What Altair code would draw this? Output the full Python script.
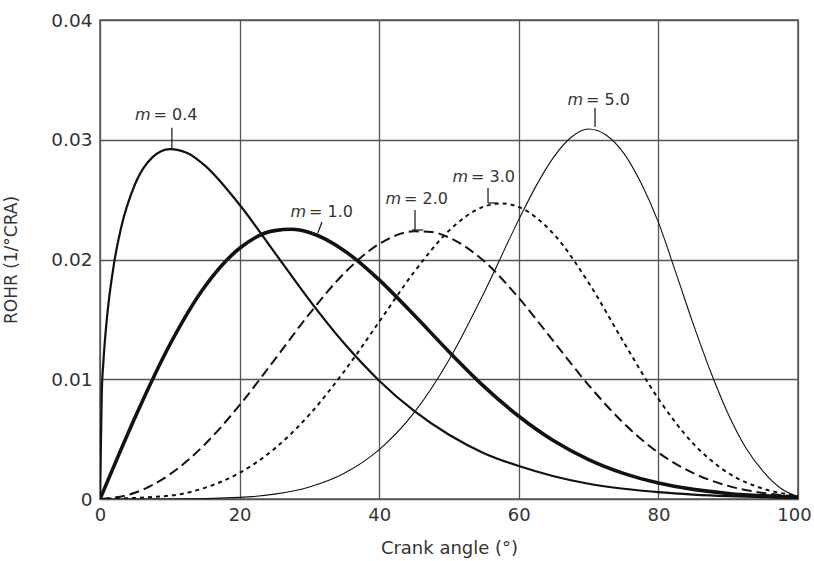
import altair as alt
import pandas as pd

# ---- data (crank angle in degrees, ROHR in 1/°CRA) ----
x_m04 = [0, 0.25, 0.5, 1, 2, 3, 5, 7.5, 10, 12.5, 15, 20, 25, 30, 35, 40, 45, 50,
         55, 60, 65, 70, 75, 80, 85, 90, 95, 100]
y_m04 = [0, 0.00877, 0.01156, 0.01514, 0.01963, 0.02259, 0.02626, 0.02853, 0.02922,
         0.02889, 0.02786, 0.02457, 0.02060, 0.01661, 0.01298, 0.00988, 0.00735,
         0.00536, 0.00383, 0.00275, 0.00190, 0.00127, 0.000854, 0.000567, 0.000372,
         0.000240, 0.000154, 0.0000974]

x_m10 = [0, 2.5, 5, 10, 15, 20, 25, 27.5, 30, 35, 40, 45, 50, 55, 60, 65, 70, 75,
         80, 85, 90, 95, 100]
y_m10 = [0, 0.003435, 0.00678, 0.01288, 0.01772, 0.02094, 0.02241, 0.02252, 0.02225,
         0.02074, 0.01830, 0.01536, 0.01230, 0.00941, 0.00691, 0.00486, 0.00329,
         0.00214, 0.00133, 0.000802, 0.000464, 0.000259, 0.000139]

x_m20 = [0, 5, 10, 15, 20, 25, 30, 35, 40, 45, 47.5, 50, 55, 60, 65, 70, 75, 80,
         85, 90, 95, 100]
y_m20 = [0, 0.000517, 0.002056, 0.00455, 0.00784, 0.01162, 0.01546, 0.01886,
         0.02130, 0.02235, 0.02230, 0.02184, 0.01987, 0.01679, 0.01315, 0.00951,
         0.00634, 0.00387, 0.00216, 0.001096, 0.000504, 0.000209]

x_m30 = [0, 10, 15, 20, 25, 30, 35, 40, 45, 50, 55, 57.5, 60, 65, 70, 75, 80, 85,
         90, 95, 100]
y_m30 = [0, 0.000276, 0.000928, 0.002184, 0.004198, 0.007047, 0.01067, 0.01480,
         0.01895, 0.02241, 0.02442, 0.02468, 0.02438, 0.02212, 0.01806, 0.01312,
         0.00837, 0.00462, 0.002175, 0.000858, 0.000278]

x_m50 = [0, 10, 20, 25, 30, 35, 40, 45, 50, 55, 60, 62.5, 65, 67.5, 70, 72.5, 75,
         77.5, 80, 82.5, 85, 87.5, 90, 92.5, 95, 97.5, 100]
y_m50 = [0, 0.000004, 0.000132, 0.000404, 0.001001, 0.002147, 0.004121, 0.007214,
         0.011615, 0.017212, 0.02333, 0.02617, 0.02855, 0.03021, 0.03090, 0.03040,
         0.02890, 0.02640, 0.02310, 0.01890, 0.01460, 0.01060, 0.00710, 0.00430,
         0.00230, 0.00090, 0.00020]

# curve labels ("m" in italics, then the value) and their leader lines
label_values = ["= 0.4", "= 1.0", "= 2.0", "= 3.0", "= 5.0"]
label_x = [7.38, 29.66, 43.27, 52.87, 69.34]
label_y = [0.03207, 0.02397, 0.02505, 0.02689, 0.03332]

lead_x = [10.3, 31.8, 45.13, 55.59, 70.92]
lead_x2 = [10.3, 31.2, 45.13, 55.59, 70.92]
lead_y = [0.0310, 0.02313, 0.02413, 0.02597, 0.03265]
lead_y2 = [0.0293, 0.0222, 0.02246, 0.02472, 0.03106]

foot_x = [44.7, 55.59]
foot_x2 = [46.3, 56.9]
foot_y = [0.02246, 0.02472]

FONT = "DejaVu Sans"
TXT = "#333333"
INK = "#111111"

xs = alt.Scale(domain=[0, 100], nice=False, zero=False)
ys = alt.Scale(domain=[0, 0.04], nice=False)

x_axis = alt.Axis(values=[0, 20, 40, 60, 80, 100], title="Crank angle (°)",
                  grid=True, ticks=False, domain=False, labelPadding=7,
                  labelFontSize=18, titleFontSize=18, titleY=49,
                  titleBaseline="middle", labelFlush=False,
                  labelOffset={"condition": {"test": "datum.value == 100", "value": -4},
                               "value": 0})
y_axis = alt.Axis(values=[0, 0.01, 0.02, 0.03, 0.04], title="ROHR (1/°CRA)",
                  grid=True, ticks=False, domain=False, labelPadding=8,
                  labelFontSize=18.5, titleFontSize=17, titleX=-89,
                  titleBaseline="middle", labelFlush=False,
                  labelExpr="datum.value == 0 ? '0' : format(datum.value, '.2f')")


def curve(xv, yv, width, dash=None, axes=False):
    df = pd.DataFrame({"x": xv, "y": yv})
    kw = dict(color=INK, strokeWidth=width, interpolate="monotone",
              strokeCap="butt", clip=True)
    if dash:
        kw["strokeDash"] = dash
    if axes:
        enc = dict(x=alt.X("x:Q", scale=xs, axis=x_axis),
                   y=alt.Y("y:Q", scale=ys, axis=y_axis))
    else:
        enc = dict(x=alt.X("x:Q", scale=xs), y=alt.Y("y:Q", scale=ys))
    return alt.Chart(df).mark_line(**kw).encode(**enc)


c04 = curve(x_m04, y_m04, 2.2, axes=True)
c10 = curve(x_m10, y_m10, 3.6)
c20 = curve(x_m20, y_m20, 2.0, dash=[10, 5])
c30 = curve(x_m30, y_m30, 2.0, dash=[4, 4])
c50 = curve(x_m50, y_m50, 1.1)

lab = pd.DataFrame({"x": label_x, "y": label_y, "t": label_values})
lab_m = alt.Chart(lab).mark_text(text="m", font=FONT, fontStyle="italic",
                                 fontSize=16, align="right", baseline="middle",
                                 dx=-1, color=TXT).encode(
    x=alt.X("x:Q", scale=xs), y=alt.Y("y:Q", scale=ys))
lab_v = alt.Chart(lab).mark_text(font=FONT, fontSize=16, align="left",
                                 baseline="middle", dx=2, color=TXT).encode(
    x=alt.X("x:Q", scale=xs), y=alt.Y("y:Q", scale=ys), text="t:N")

leads = pd.DataFrame({"x": lead_x, "x2": lead_x2, "y": lead_y, "y2": lead_y2})
lead = alt.Chart(leads).mark_rule(color=INK, strokeWidth=1.2).encode(
    x=alt.X("x:Q", scale=xs), x2="x2:Q",
    y=alt.Y("y:Q", scale=ys), y2="y2:Q")

feet = pd.DataFrame({"x": foot_x, "x2": foot_x2, "y": foot_y})
foot = alt.Chart(feet).mark_rule(color=INK, strokeWidth=1.2).encode(
    x=alt.X("x:Q", scale=xs), x2="x2:Q", y=alt.Y("y:Q", scale=ys))

chart = alt.layer(c04, c50, c30, c20, c10, lead, foot, lab_m, lab_v).properties(
    width=698, height=479,
    autosize=alt.AutoSizeParams(type="none"),
    padding={"left": 100, "top": 20, "right": 16, "bottom": 62},
    background="white",
).configure_view(stroke="#555555", strokeWidth=1.5).configure_axis(
    gridColor="#555555", gridWidth=1.3, gridOpacity=1,
    labelFont=FONT, titleFont=FONT, labelColor=TXT, titleColor=TXT,
    titleFontWeight="normal",
)

chart.save("out.html", embed_options={"renderer": "svg", "actions": False})
